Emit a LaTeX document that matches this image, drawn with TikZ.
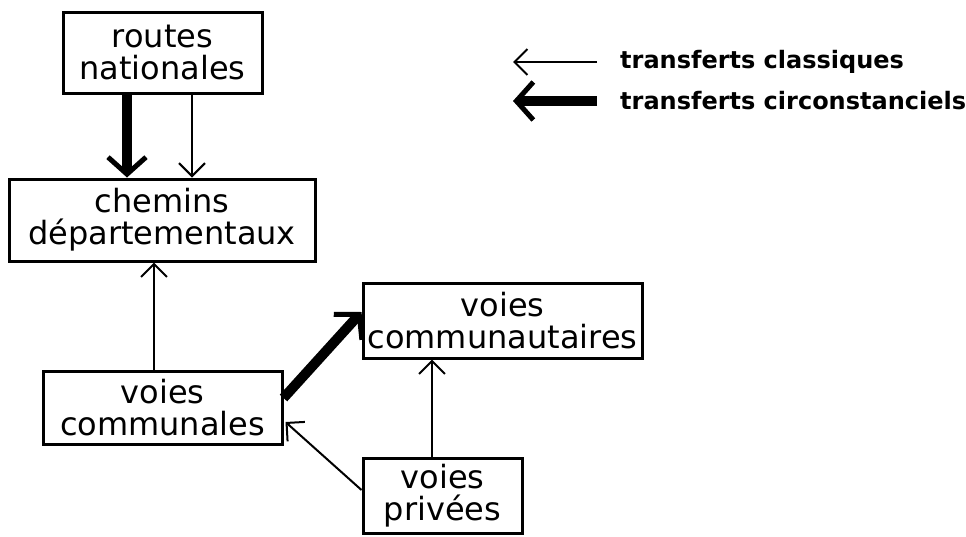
\documentclass[tikz,border=0pt]{standalone}
\usepackage{fontspec}
\setmainfont{DejaVu Sans}
\newfontfamily\legfont{DejaVu Sans}
\usetikzlibrary{arrows.meta}
\begin{document}
\begin{tikzpicture}[x=1pt,y=-1pt,
  box/.style={draw, line width=3pt, inner sep=0pt, align=center,
    font=\fontsize{32}{32}\selectfont},
  thinarrow/.style={line width=2pt, -{Straight Barb[length=13pt,width=26pt,line width=2pt]}},
  thickarrow/.style={line width=10pt, -{Straight Barb[length=17pt,width=38pt,line width=5pt]}},
  legtext/.style={anchor=west, inner sep=0pt, font=\legfont\bfseries\fontsize{24}{26}\selectfont},
]
\useasboundingbox (0,0) rectangle (966,536);

\node[box, minimum width=199pt, minimum height=81pt] (routes) at (162.5,52.5) {routes\\nationales};
\node[box, minimum width=306pt, minimum height=82pt] (chemins) at (162,220) {chemins\\départementaux};
\node[box, minimum width=239pt, minimum height=73pt] (communales) at (162.5,407.5) {voies\\communales};
\node[box, minimum width=279pt, minimum height=75pt] (communautaires) at (502.5,320.5) {voies\\communautaires};
\node[box, minimum width=159pt, minimum height=75pt] (privees) at (442.5,495.5) {voies\\privées};

% transfers
\draw[thickarrow] ([xshift=-35.5pt]routes.south) -- ([xshift=-35.5pt]routes.south |- chemins.north);
\draw[thinarrow] ([xshift=29.5pt]routes.south) -- ([xshift=29.5pt]routes.south |- chemins.north);
\draw[thinarrow] ([xshift=-8.5pt]communales.north) -- ([xshift=-8.5pt]communales.north |- chemins.south);
\draw[thickarrow] ([yshift=9.5pt]communales.east) -- ([yshift=8.5pt]communautaires.west);
\draw[thinarrow] ([xshift=-10.5pt]privees.north) -- ([xshift=-10.5pt]privees.north |- communautaires.south);
\draw[thinarrow] ([yshift=5.5pt]privees.west) -- ([yshift=-14.5pt,xshift=2pt]communales.east);

% legend
\node[legtext] (leg1) at (620,62) {transferts classiques};
\node[legtext] (leg2) at (620,101) {transferts circonstanciels};
\coordinate (leg1tip) at (513,62);
\coordinate (leg2tip) at (513,101);
\draw[thinarrow] ([xshift=-23pt]leg1.west) -- (leg1tip);
\draw[thickarrow] ([xshift=-23pt]leg2.west) -- (leg2tip);
\end{tikzpicture}
\end{document}
